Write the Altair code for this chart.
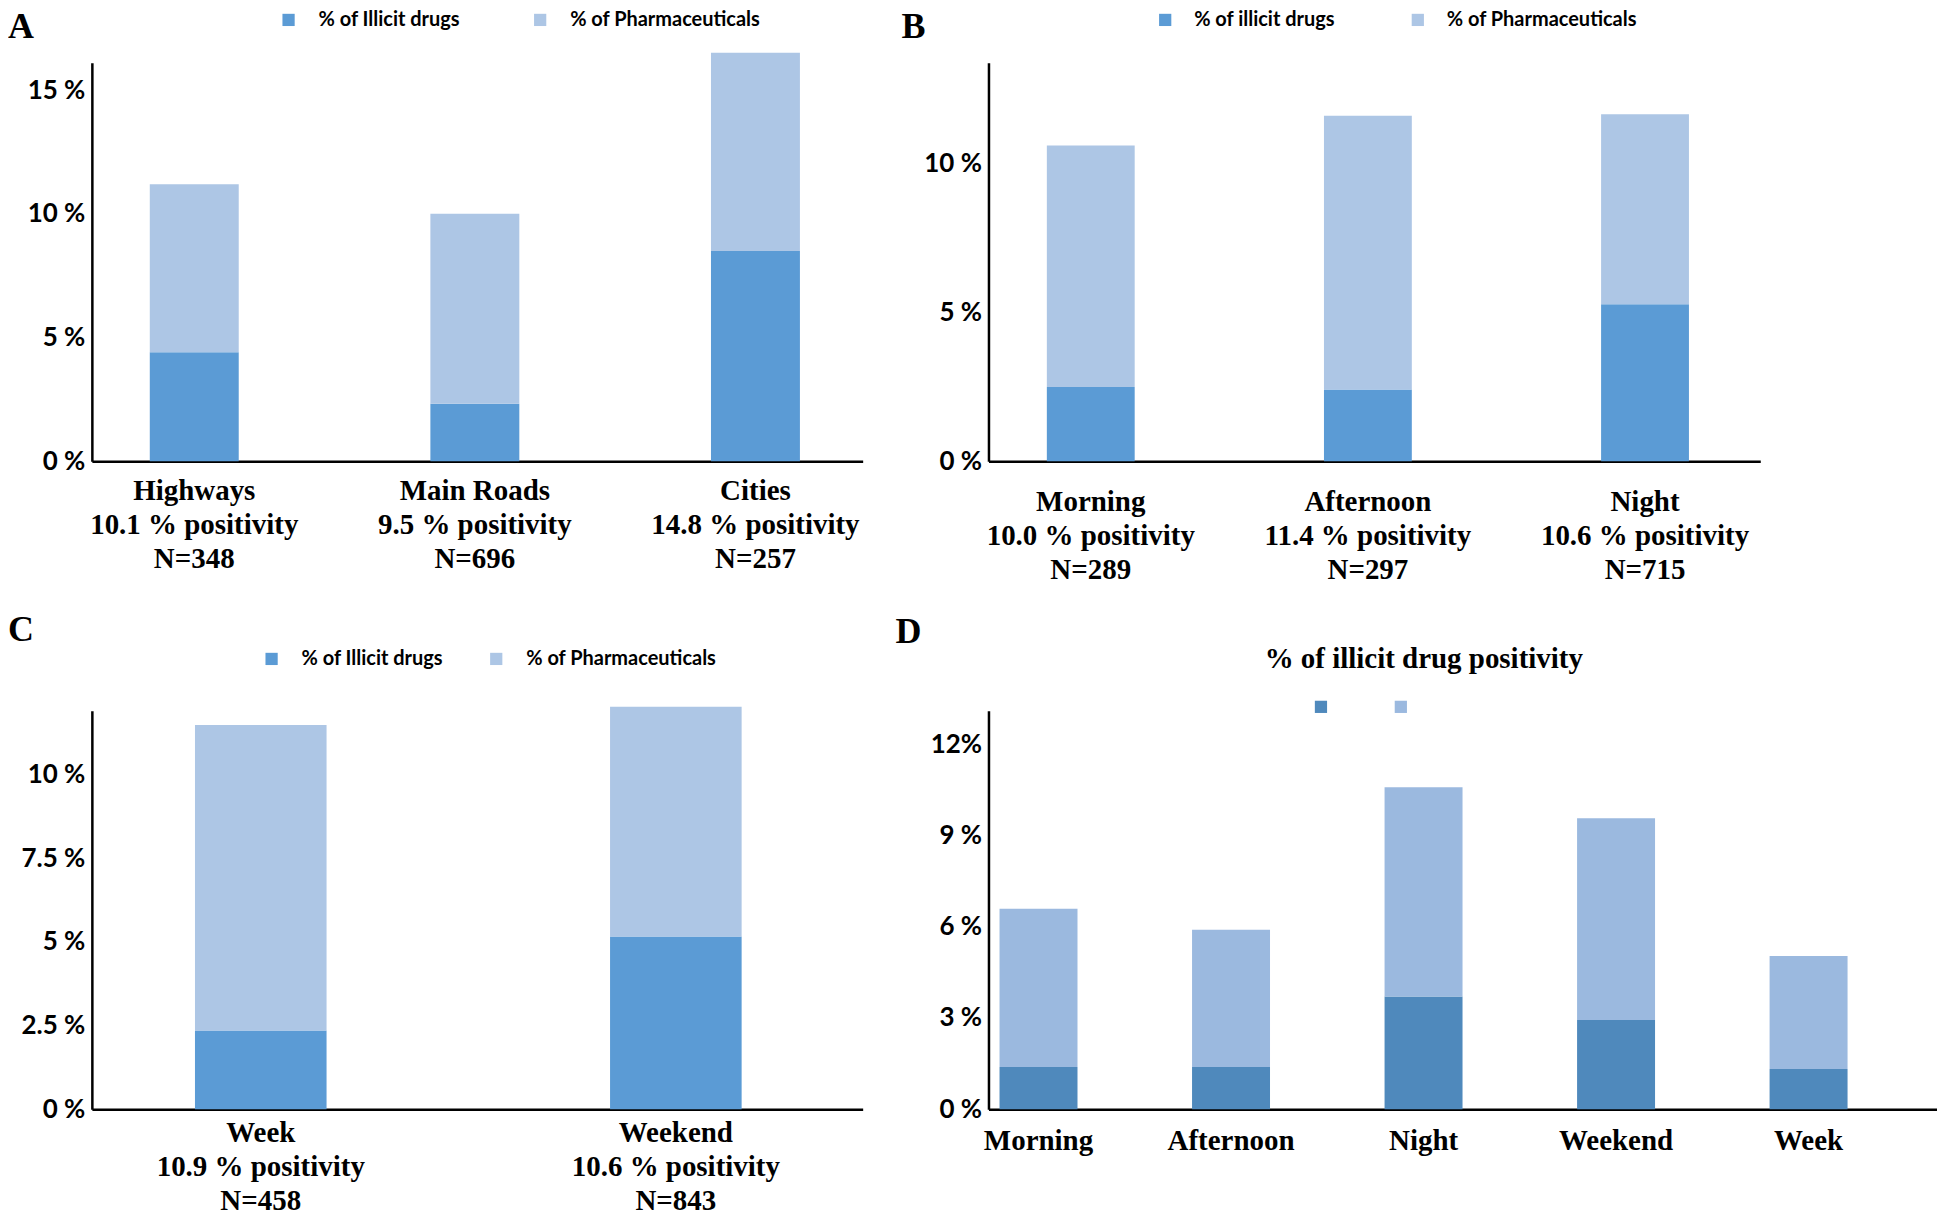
import altair as alt
import pandas as pd

# ---------------- data ----------------
# Panel A
A_categories = ["Highways", "Main Roads", "Cities"]
A_positivity = ["10.1 % positivity", "9.5 % positivity", "14.8 % positivity"]
A_n = ["N=348", "N=696", "N=257"]
A_illicit = [4.40, 2.32, 8.50]
A_pharma = [6.79, 7.68, 8.01]
A_series = ["% of Illicit drugs", "% of Pharmaceuticals"]
A_ticks = [0, 5, 10, 15]

# Panel B
B_categories = ["Morning", "Afternoon", "Night"]
B_positivity = ["10.0 % positivity", "11.4 % positivity", "10.6 % positivity"]
B_n = ["N=289", "N=297", "N=715"]
B_illicit = [2.50, 2.41, 5.28]
B_pharma = [8.12, 9.21, 6.39]
B_series = ["% of illicit drugs", "% of Pharmaceuticals"]
B_ticks = [0, 5, 10]

# Panel C
C_categories = ["Week", "Weekend"]
C_positivity = ["10.9 % positivity", "10.6 % positivity"]
C_n = ["N=458", "N=843"]
C_illicit = [2.35, 5.16]
C_pharma = [9.13, 6.86]
C_series = ["% of Illicit drugs", "% of Pharmaceuticals"]
C_ticks = [0, 2.5, 5, 7.5, 10]

# Panel D
D_categories = ["Morning", "Afternoon", "Night", "Weekend", "Week"]
D_illicit = [1.39, 1.39, 3.71, 2.93, 1.32]
D_pharma = [5.20, 4.51, 6.88, 6.64, 3.72]
D_series = ["illicit", "pharmaceuticals"]
D_ticks = [0, 3, 6, 9, 12]
D_title = "% of illicit drug positivity"

COL_ABC = ["#5B9BD5", "#ADC6E5"]
COL_D = ["#4F89BC", "#9BB9DF"]

SERIF = "Liberation Serif"
SANS = "Lato"


def build_df(labels, illicit, pharma, series):
    rows = []
    for lab, a, b in zip(labels, illicit, pharma):
        rows.append({"label": lab, "series": series[0], "value": a, "k": 0})
        rows.append({"label": lab, "series": series[1], "value": b, "k": 1})
    return pd.DataFrame(rows)


def panel(labels, illicit, pharma, series, colors, width, height, ymax, ticks,
          p_inner, p_outer, align, leg_x, leg_y, leg_offset, leg_colpad,
          x_pad, x_lh, letter, lx, ly, y_expr, leg_label_expr=None,
          title_text=None, tx=0, ty=0):
    df = build_df(labels, illicit, pharma, series)
    leg_kwargs = dict(orient="none", legendX=leg_x, legendY=leg_y,
                      direction="horizontal", symbolType="square",
                      symbolSize=150, symbolStrokeWidth=0, labelFont=SANS,
                      labelFontSize=20, labelFontWeight="bold",
                      labelColor="black", labelOffset=leg_offset,
                      labelLimit=500,
                      columnPadding=leg_colpad, padding=0)
    if leg_label_expr is not None:
        leg_kwargs["labelExpr"] = leg_label_expr
    bars = alt.Chart(df).mark_bar().encode(
        x=alt.X("label:N", sort=labels, title=None,
                scale=alt.Scale(paddingInner=p_inner, paddingOuter=p_outer,
                                align=align),
                axis=alt.Axis(labelExpr="split(datum.label, '|')",
                              labelAngle=0, labelFont=SERIF,
                              labelFontSize=29, labelFontWeight="bold",
                              labelLineHeight=x_lh, labelPadding=x_pad,
                              labelLimit=0, labelOverlap=False,
                              labelColor="black")),
        y=alt.Y("value:Q", stack="zero", title=None,
                scale=alt.Scale(domain=[0, ymax], nice=False, zero=True),
                axis=alt.Axis(values=ticks, labelExpr=y_expr, labelFont=SANS,
                              labelFontSize=26, labelFontWeight="bold",
                              labelPadding=7, labelColor="black")),
        color=alt.Color("series:N", title=None,
                        scale=alt.Scale(domain=series, range=colors),
                        legend=alt.Legend(**leg_kwargs)),
        order=alt.Order("k:Q", sort="ascending"),
    )
    letter_layer = alt.Chart(alt.Data(values=[{"t": letter}])).mark_text(
        font=SERIF, fontSize=36, fontWeight="bold", align="left",
        baseline="top", color="black"
    ).encode(x=alt.value(lx), y=alt.value(ly), text="t:N")
    layers = [bars, letter_layer]
    if title_text is not None:
        title_layer = alt.Chart(alt.Data(values=[{"t": title_text}])).mark_text(
            font=SERIF, fontSize=29, fontWeight="bold", align="center",
            baseline="middle", color="black"
        ).encode(x=alt.value(tx), y=alt.value(ty), text="t:N")
        layers.append(title_layer)
    return alt.layer(*layers).properties(width=width, height=height)


def three_line(cats, pos, ns):
    return [f"{c}|{p}|{n}" for c, p, n in zip(cats, pos, ns)]


pct = "datum.value + ' %'"

chart_a = panel(three_line(A_categories, A_positivity, A_n), A_illicit, A_pharma,
                A_series, COL_ABC, 772, 399, 16.1, A_ticks,
                0.683, 0.215, 0.48, 187, -53, 20, 70,
                15, 34, "A", -84, -53, pct)
chart_b = panel(three_line(B_categories, B_positivity, B_n), B_illicit, B_pharma,
                B_series, COL_ABC, 773, 399, 13.4, B_ticks,
                0.683, 0.234, 0.45, 167, -53, 19, 72,
                26, 34, "B", -87, -53, pct)
chart_c = panel(three_line(C_categories, C_positivity, C_n), C_illicit, C_pharma,
                C_series, COL_ABC, 772, 399, 11.9, C_ticks,
                0.683, 0.27, 0.46, 170, -62, 20, 43,
                9, 34, "C", -84, -98, pct)
chart_d = panel(D_categories, D_illicit, D_pharma,
                D_series, COL_D, 950, 399, 13.1, D_ticks,
                0.595, 0.261, 0.11, 323, -14, 0, 60,
                17, 32, "D", -93, -96,
                "datum.value == 12 ? '12%' : datum.value + ' %'",
                leg_label_expr="''", title_text=D_title, tx=436, ty=-52)

chart = alt.concat(
    chart_a, chart_b, chart_c, chart_d,
    columns=2, spacing={"row": 250, "column": 126}, bounds="flush",
    align="each",
).resolve_scale(color="independent").resolve_legend(
    color="independent").properties(
    padding={"left": 0, "top": 0, "right": 0, "bottom": 0}
).configure_view(strokeWidth=0).configure_axis(
    domainColor="black", domainWidth=2.5, ticks=False, tickSize=0, grid=False
)

chart.save("out.html", embed_options={"renderer": "svg", "actions": False})
